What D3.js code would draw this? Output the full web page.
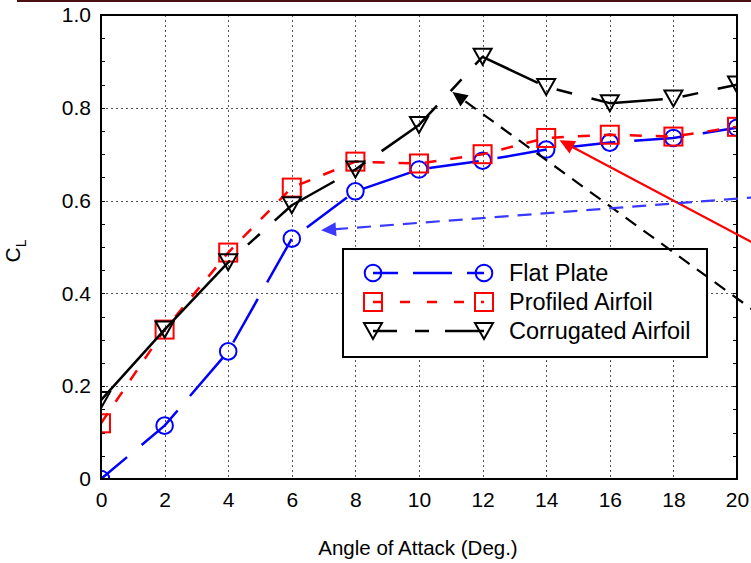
<!DOCTYPE html>
<html>
<head>
<meta charset="utf-8">
<script src="https://cdn.jsdelivr.net/npm/d3@7"></script>
<style>
  html, body { margin: 0; padding: 0; background: #fff; }
  svg { display: block; font-family: Arial, "Liberation Sans", Helvetica, sans-serif; }
</style>
</head>
<body>
<svg id="chart" width="751" height="563"></svg>
<script>
// Lift coefficient vs angle of attack for three wing sections
const angles = [0, 2, 4, 6, 8, 10, 12, 14, 16, 18, 20];
const flatPlate = [0, 0.115, 0.275, 0.518, 0.62, 0.667, 0.686, 0.71, 0.725, 0.735, 0.757];
const profiledAirfoil = [0.12, 0.322, 0.488, 0.628, 0.684, 0.68, 0.70, 0.735, 0.742, 0.738, 0.759];
const corrugatedAirfoil = [0.17, 0.322, 0.467, 0.59, 0.667, 0.763, 0.91, 0.845, 0.81, 0.82, 0.85];

const seriesNames = ["Flat Plate", "Profiled Airfoil", "Corrugated Airfoil"];
const xTicks = [0, 2, 4, 6, 8, 10, 12, 14, 16, 18, 20];
const yTicks = [0, 0.2, 0.4, 0.6, 0.8, 1.0];
const yTickLabels = ["0", "0.2", "0.4", "0.6", "0.8", "1.0"];

// Annotation arrows (tail -> head) in data units
const arrowBlack = [[20.75, 0.352], [11.05, 0.834]];
const arrowRed = [[20.75, 0.50], [14.42, 0.730]];
const arrowBlue = [[20.75, 0.608], [6.92, 0.536]];

(function () {
const svg = d3.select("#chart");
const W = 751;
const pLeft = 101, pRight = 737, pTop = 15, pBottom = 479;

const x = d3.scaleLinear().domain([0, 20]).range([pLeft, pRight]);
const y = d3.scaleLinear().domain([0, 1]).range([pBottom, pTop]);

// thin dark rule along the very top
svg.append("rect").attr("x", 17).attr("y", 0).attr("width", W - 17).attr("height", 2).attr("fill", "#4a0f0f");

svg.append("defs").append("clipPath").attr("id", "plotClip")
  .append("rect").attr("x", pLeft).attr("y", pTop).attr("width", pRight - pLeft).attr("height", pBottom - pTop);

// grid
const grid = svg.append("g").attr("stroke", "#555").attr("stroke-width", 1).attr("stroke-dasharray", "2,3");
grid.selectAll("line.v").data(xTicks.slice(1, -1)).join("line")
  .attr("x1", d => Math.round(x(d)) + 0.5).attr("x2", d => Math.round(x(d)) + 0.5)
  .attr("y1", pTop).attr("y2", pBottom);
grid.selectAll("line.h").data(yTicks.slice(1, -1)).join("line")
  .attr("y1", d => Math.round(y(d)) + 0.5).attr("y2", d => Math.round(y(d)) + 0.5)
  .attr("x1", pLeft).attr("x2", pRight);

// minor ticks on the left and right axes
const minorY = d3.range(0, 1.0001, 0.05);
const minor = svg.append("g").attr("stroke", "#000").attr("stroke-width", 1);
minor.selectAll("line.l").data(minorY).join("line")
  .attr("x1", pLeft).attr("x2", pLeft + 4)
  .attr("y1", d => Math.round(y(d)) + 0.5).attr("y2", d => Math.round(y(d)) + 0.5);
minor.selectAll("line.r").data(minorY).join("line")
  .attr("x1", pRight - 4).attr("x2", pRight)
  .attr("y1", d => Math.round(y(d)) + 0.5).attr("y2", d => Math.round(y(d)) + 0.5);

// axes with tick labels
const xAxis = d3.axisBottom(x).tickValues(xTicks).tickSize(0).tickPadding(13).tickFormat(d3.format("d"));
const gx = svg.append("g").attr("transform", `translate(0,${pBottom})`).call(xAxis);
gx.select(".domain").remove();
gx.selectAll("text").attr("font-size", 21).attr("fill", "#000").attr("font-family", "Arial, 'Liberation Sans', sans-serif");

const yAxis = d3.axisLeft(y).tickValues(yTicks).tickSize(0).tickPadding(10)
  .tickFormat((d, i) => yTickLabels[i]);
const gy = svg.append("g").attr("transform", `translate(${pLeft},0)`).call(yAxis);
gy.select(".domain").remove();
gy.selectAll("text").attr("font-size", 21).attr("fill", "#000").attr("font-family", "Arial, 'Liberation Sans', sans-serif");

// series styles (plot dash pattern and legend dash pattern)
const blackPlotDash = [190, 24, 16, 20].concat(...d3.range(4).map(() => [72, 20, 16, 20]), [120]).join(",");
const series = [
  { name: seriesNames[0], values: flatPlate, color: "#0000ff", dash: "50,19", offset: 16,
    legendDash: "39,15", legendOffset: 14, marker: "circle" },
  { name: seriesNames[1], values: profiledAirfoil, color: "#ff0000", dash: "12,14", offset: 0,
    legendDash: "10,17", legendOffset: 0, marker: "square" },
  { name: seriesNames[2], values: corrugatedAirfoil, color: "#000000", dash: blackPlotDash, offset: 0,
    legendDash: "70,18,14,16", legendOffset: 46, marker: "triangle" }
];

function drawMarker(g, type, cx, cy, color) {
  if (type === "circle") {
    g.append("circle").attr("cx", cx).attr("cy", cy).attr("r", 8.3)
      .attr("fill", "none").attr("stroke", color).attr("stroke-width", 2);
  } else if (type === "square") {
    g.append("rect").attr("x", cx - 9).attr("y", cy - 9).attr("width", 18).attr("height", 18)
      .attr("fill", "none").attr("stroke", color).attr("stroke-width", 2);
  } else {
    g.append("path").attr("d", `M${cx - 9},${cy - 8}L${cx + 9},${cy - 8}L${cx},${cy + 8}Z`)
      .attr("fill", "none").attr("stroke", color).attr("stroke-width", 2).attr("stroke-linejoin", "miter");
  }
}

const plot = svg.append("g").attr("clip-path", "url(#plotClip)");
const line = d3.line().x((d, i) => x(angles[i])).y(d => y(d));
series.forEach(s => {
  plot.append("path").datum(s.values).attr("d", line)
    .attr("fill", "none").attr("stroke", s.color).attr("stroke-width", 2.5)
    .attr("stroke-dasharray", s.dash).attr("stroke-dashoffset", s.offset)
    .attr("stroke-linejoin", "round");
  const mg = plot.append("g");
  s.values.forEach((v, i) => drawMarker(mg, s.marker, x(angles[i]), y(v), s.color));
});

// axes box
svg.append("rect").attr("x", pLeft).attr("y", pTop).attr("width", pRight - pLeft).attr("height", pBottom - pTop)
  .attr("fill", "none").attr("stroke", "#000").attr("stroke-width", 2);

// legend
const lg = svg.append("g");
lg.append("rect").attr("x", 343).attr("y", 249).attr("width", 364).attr("height", 108)
  .attr("fill", "#fff").attr("stroke", "#000").attr("stroke-width", 2);
series.forEach((s, i) => {
  const cy = 273 + i * 29;
  lg.append("line").attr("x1", 373).attr("x2", 484).attr("y1", cy).attr("y2", cy)
    .attr("stroke", s.color).attr("stroke-width", 2.5)
    .attr("stroke-dasharray", s.legendDash).attr("stroke-dashoffset", s.legendOffset);
  drawMarker(lg, s.marker, 373, cy, s.color);
  drawMarker(lg, s.marker, 484, cy, s.color);
  lg.append("text").attr("x", 509).attr("y", cy + 8).attr("font-size", 23.5).attr("fill", "#000").text(s.name);
});

// annotation arrows
function arrow(pts, color, dash) {
  const [t, h] = pts.map(p => [x(p[0]), y(p[1])]);
  const dx = h[0] - t[0], dy = h[1] - t[1];
  const len = Math.hypot(dx, dy), ux = dx / len, uy = dy / len;
  const hl = 15, hw = 7;
  const bx = h[0] - ux * hl, by = h[1] - uy * hl;
  svg.append("line").attr("x1", t[0]).attr("y1", t[1]).attr("x2", bx).attr("y2", by)
    .attr("stroke", color).attr("stroke-width", 2.2).attr("stroke-dasharray", dash || null);
  svg.append("path")
    .attr("d", `M${h[0]},${h[1]}L${bx - uy * hw},${by + ux * hw}L${bx + uy * hw},${by - ux * hw}Z`)
    .attr("fill", color);
}
arrow(arrowBlack, "#000", "13,9");
arrow(arrowRed, "#ff0000", null);
arrow(arrowBlue, "#3a3aff", "14,9");

// axis titles
svg.append("text").attr("x", 418).attr("y", 555).attr("text-anchor", "middle")
  .attr("font-size", 20.5).attr("fill", "#000").text("Angle of Attack (Deg.)");
const yl = svg.append("text").attr("transform", "translate(20,251) rotate(-90)")
  .attr("text-anchor", "middle").attr("font-size", 21).attr("fill", "#000");
yl.append("tspan").text("C");
yl.append("tspan").attr("dy", 6).attr("font-size", 14).text("L");
})();
</script>
</body>
</html>
